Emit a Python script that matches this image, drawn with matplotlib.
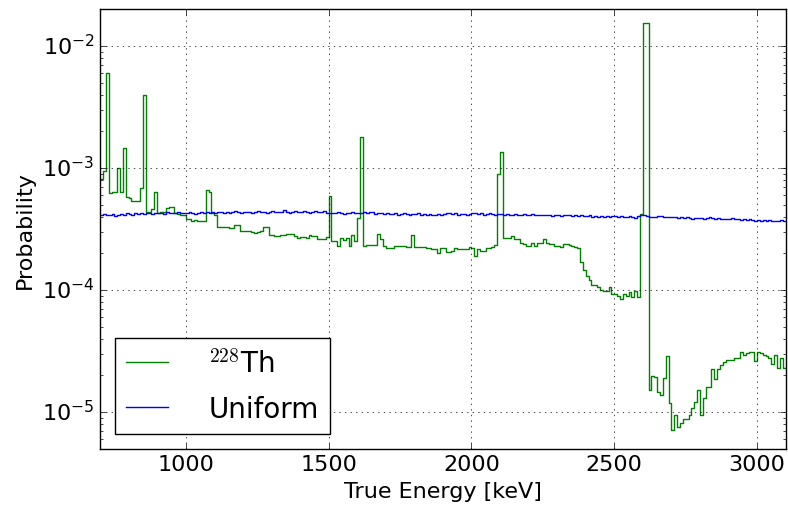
import numpy as np
import matplotlib
matplotlib.use('Agg')
import matplotlib.pyplot as plt
from matplotlib.lines import Line2D

# 10 keV bins from 700 to 3100 keV
bin_edges = np.arange(700, 3101, 10)

# 228Th true-energy spectrum (probability per bin)
th228 = [
    8.1e-4, 9.4e-4, 6.0e-3, 6.2e-4, 6.3e-4, 6.3e-4, 1.0e-3, 6.3e-4, 1.45e-3, 5.8e-4,
    5.7e-4, 5.4e-4, 5.4e-4, 5.4e-4, 6.8e-4, 4.0e-3, 4.4e-4, 4.4e-4, 4.6e-4, 6.3e-4,
    4.3e-4, 4.4e-4, 4.4e-4, 4.7e-4, 4.8e-4, 4.8e-4, 4.3e-4, 4.2e-4, 4.1e-4, 4.1e-4,
    3.8e-4, 3.8e-4, 3.7e-4, 3.75e-4, 3.7e-4, 3.65e-4, 3.7e-4, 6.6e-4, 6.4e-4, 4.3e-4,
    4.1e-4, 3.3e-4, 3.3e-4, 3.3e-4, 3.3e-4, 3.2e-4, 3.2e-4, 3.4e-4, 3.4e-4, 3.05e-4,
    3.05e-4, 3.05e-4, 3.05e-4, 3.0e-4, 2.95e-4, 3.0e-4, 3.05e-4, 3.3e-4, 3.3e-4, 2.8e-4,
    2.8e-4, 2.75e-4, 2.75e-4, 2.85e-4, 2.85e-4, 2.9e-4, 2.9e-4, 2.9e-4, 2.75e-4, 2.65e-4,
    2.7e-4, 2.7e-4, 2.65e-4, 2.8e-4, 2.75e-4, 2.75e-4, 2.6e-4, 2.6e-4, 2.6e-4, 2.7e-4,
    5.9e-4, 2.5e-4, 2.5e-4, 2.3e-4, 2.65e-4, 2.55e-4, 2.65e-4, 2.3e-4, 2.8e-4, 2.5e-4,
    3.9e-4, 1.8e-3, 2.3e-4, 2.35e-4, 2.35e-4, 2.35e-4, 2.35e-4, 2.9e-4, 2.6e-4, 2.3e-4,
    2.2e-4, 2.2e-4, 2.2e-4, 2.3e-4, 2.3e-4, 2.3e-4, 2.3e-4, 2.25e-4, 2.25e-4, 2.8e-4,
    2.25e-4, 2.25e-4, 2.25e-4, 2.25e-4, 2.2e-4, 2.2e-4, 2.15e-4, 2.15e-4, 2.0e-4, 2.2e-4,
    2.2e-4, 2.05e-4, 2.05e-4, 2.1e-4, 2.2e-4, 2.15e-4, 2.15e-4, 2.15e-4, 2.15e-4, 2.25e-4,
    2.2e-4, 1.9e-4, 2.15e-4, 2.1e-4, 2.1e-4, 2.2e-4, 2.2e-4, 2.25e-4, 2.35e-4, 8.9e-4,
    1.35e-3, 2.68e-4, 2.68e-4, 2.65e-4, 2.75e-4, 2.6e-4, 2.6e-4, 2.45e-4, 2.4e-4, 2.3e-4,
    2.3e-4, 2.45e-4, 2.3e-4, 2.45e-4, 2.45e-4, 2.6e-4, 2.45e-4, 2.4e-4, 2.4e-4, 2.3e-4,
    2.3e-4, 2.25e-4, 2.4e-4, 2.4e-4, 2.35e-4, 2.3e-4, 2.25e-4, 2.2e-4, 1.7e-4, 1.45e-4,
    1.3e-4, 1.2e-4, 1.1e-4, 1.1e-4, 1.05e-4, 1.0e-4, 9.8e-5, 9.8e-5, 1.05e-4, 9.3e-5,
    9.3e-5, 8.9e-5, 8.5e-5, 9.3e-5, 8.9e-5, 9.6e-5, 8.7e-5, 9.8e-5, 8.7e-5, 4.2e-4,
    1.55e-2, 1.55e-2, 1.52e-5, 1.96e-5, 1.93e-5, 1.47e-5, 1.38e-5, 1.9e-5, 2.86e-5, 1.18e-5,
    7.1e-6, 9.4e-6, 7.6e-6, 8.2e-6, 8.8e-6, 8.8e-6, 9.4e-6, 1.07e-5, 1.22e-5, 1.52e-5,
    9.4e-6, 1.3e-5, 1.62e-5, 1.62e-5, 2.24e-5, 1.86e-5, 2.24e-5, 2.45e-5, 2.56e-5, 2.66e-5,
    2.66e-5, 2.66e-5, 2.77e-5, 2.77e-5, 3.13e-5, 2.95e-5, 3.04e-5, 3.13e-5, 3.13e-5, 2.6e-5,
    3.1e-5, 3.04e-5, 2.95e-5, 2.86e-5, 2.8e-5, 2.5e-5, 2.95e-5, 2.3e-5, 2.8e-5, 2.3e-5,
]

# uniform spectrum, in units of 1e-4
uniform = [
    4.15, 4.2, 4.1, 4.15, 4.2, 4.05, 4.15, 4.2, 4.15, 4.25,
    4.2, 4.15, 4.3, 4.2, 4.25, 4.2, 4.3, 4.25, 4.2, 4.3,
    4.25, 4.3, 4.2, 4.35, 4.3, 4.25, 4.3, 4.35, 4.3, 4.25,
    4.3, 4.35, 4.3, 4.2, 4.3, 4.35, 4.3, 4.4, 4.3, 4.35,
    4.3, 4.35, 4.4, 4.3, 4.35, 4.3, 4.4, 4.45, 4.35, 4.3,
    4.4, 4.35, 4.4, 4.3, 4.4, 4.45, 4.35, 4.4, 4.3, 4.4,
    4.45, 4.4, 4.35, 4.4, 4.5, 4.4, 4.3, 4.4, 4.45, 4.4,
    4.4, 4.45, 4.35, 4.3, 4.4, 4.45, 4.4, 4.35, 4.45, 4.3,
    4.25, 4.3, 4.25, 4.35, 4.3, 4.2, 4.3, 4.3, 4.35, 4.3,
    4.3, 4.25, 4.35, 4.3, 4.4, 4.35, 4.2, 4.25, 4.3, 4.2,
    4.25, 4.2, 4.2, 4.25, 4.15, 4.2, 4.25, 4.2, 4.15, 4.2,
    4.2, 4.25, 4.15, 4.2, 4.15, 4.2, 4.1, 4.15, 4.2, 4.15,
    4.2, 4.25, 4.3, 4.2, 4.25, 4.15, 4.2, 4.2, 4.15, 4.2,
    4.25, 4.3, 4.2, 4.25, 4.15, 4.2, 4.25, 4.2, 4.15, 4.2,
    4.2, 4.15, 4.2, 4.1, 4.15, 4.2, 4.15, 4.1, 4.2, 4.15,
    4.15, 4.2, 4.15, 4.1, 4.15, 4.1, 4.15, 4.1, 4.05, 4.1,
    4.1, 4.05, 4.1, 4.15, 4.1, 4.05, 4.1, 4.05, 4.1, 4.05,
    4.05, 4.1, 4.0, 4.05, 3.95, 4.05, 4.0, 4.05, 3.95, 4.05,
    4.05, 4.0, 4.05, 4.0, 3.95, 4.05, 4.0, 3.9, 4.05, 4.1,
    4.1, 4.05, 4.0, 3.95, 4.0, 4.05, 4.05, 4.0, 3.95, 3.95,
    4.0, 3.95, 3.9, 3.95, 3.9, 3.95, 3.9, 3.85, 3.9, 3.9,
    3.9, 3.85, 3.9, 3.95, 3.9, 3.85, 3.9, 3.8, 3.85, 3.85,
    3.85, 3.9, 3.8, 3.85, 3.75, 3.8, 3.75, 3.8, 3.75, 3.7,
    3.75, 3.7, 3.75, 3.7, 3.75, 3.7, 3.65, 3.7, 3.75, 3.7,
]

plt.style.use('classic')
plt.rcParams['font.family'] = ['DejaVu Sans']
plt.rcParams['mathtext.fontset'] = 'cm'

fig = plt.figure(figsize=(7.88, 5.10), dpi=100, facecolor='white')
ax = fig.add_axes([0.127, 0.118, 0.870, 0.862])

th = np.array(th228)
uni = np.array(uniform) * 1e-4
ax.step(bin_edges, np.append(th, th[-1]), where='post', color='g', lw=1)
ax.step(bin_edges, np.append(uni, uni[-1]), where='post', color='b', lw=1)

ax.set_yscale('log')
ax.set_xlim(700, 3100)
ax.set_ylim(5e-6, 2e-2)
ax.grid(True, which='major')
ax.tick_params(labelsize=16)
ax.set_xlabel('True Energy [keV]', fontsize=16)
ax.set_ylabel('Probability', fontsize=16)

handles = [Line2D([], [], color='g', lw=1), Line2D([], [], color='b', lw=1)]
ax.legend(handles, [r'$^{228}$Th', 'Uniform'], loc='lower left',
          fontsize=20, numpoints=1, handlelength=1.5, handletextpad=1.45,
          labelspacing=0.6, borderpad=0.42, borderaxespad=0.52)

fig.savefig('out.png', dpi=100, facecolor='white')
